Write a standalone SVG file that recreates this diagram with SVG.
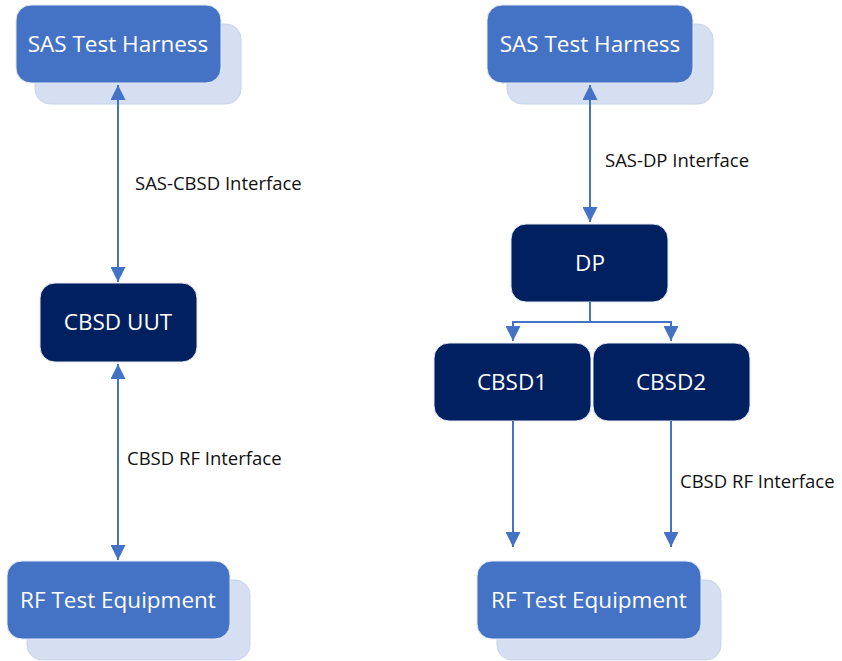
<svg xmlns="http://www.w3.org/2000/svg" width="842" height="661" viewBox="0 0 842 661">
<defs>
<marker id="ah" viewBox="0 0 10 10" refX="10" refY="5" markerWidth="7.5" markerHeight="7.5" orient="auto-start-reverse" markerUnits="strokeWidth">
<path d="M0,0 L10,5 L0,10 z" fill="#4472C4"/>
</marker>
<style>
.back{fill:#D6DFF1;stroke:#C7D4EC;stroke-width:1}
.front{fill:#4472C4;stroke:#E4E9F2;stroke-width:1}
.dark{fill:#002060;stroke:#E4E9F2;stroke-width:1}
.t{font-family:"Open Sans","Noto Sans",sans-serif;font-size:22.5px;fill:#ffffff;text-anchor:middle}
.lbl{font-family:"Open Sans","Noto Sans",sans-serif;font-size:18.5px;fill:#111111}
.c{fill:none;stroke:#4472C4;stroke-width:2}
</style>
</defs>
<rect width="842" height="661" fill="#ffffff"/>
<g id="sas-left">
<rect class="back" x="35" y="24" width="206" height="80" rx="15"/>
<rect class="front" x="16" y="5" width="205" height="78" rx="15"/>
<text class="t" x="118" y="52">SAS Test Harness</text>
</g>
<g id="cbsd-uut">
<rect class="dark" x="40" y="283" width="157" height="79" rx="15"/>
<text class="t" x="118" y="330">CBSD UUT</text>
</g>
<g id="rf-left">
<rect class="back" x="27" y="580" width="223" height="80" rx="15"/>
<rect class="front" x="7" y="561" width="223" height="78" rx="15"/>
<text class="t" x="118" y="608">RF Test Equipment</text>
</g>
<g id="sas-right">
<rect class="back" x="507" y="24" width="206" height="80" rx="15"/>
<rect class="front" x="487" y="5" width="206" height="78" rx="15"/>
<text class="t" x="590" y="52">SAS Test Harness</text>
</g>
<g id="dp">
<rect class="dark" x="511" y="224" width="157" height="78" rx="15"/>
<text class="t" x="590" y="271">DP</text>
</g>
<g id="cbsd1">
<rect class="dark" x="434" y="343" width="157" height="78" rx="15"/>
<text class="t" x="512" y="390">CBSD1</text>
</g>
<g id="cbsd2">
<rect class="dark" x="593" y="343" width="157" height="78" rx="15"/>
<text class="t" x="671" y="390">CBSD2</text>
</g>
<g id="rf-right">
<rect class="back" x="497" y="580" width="224" height="80" rx="15"/>
<rect class="front" x="477" y="561" width="224" height="78" rx="15"/>
<text class="t" x="589" y="608">RF Test Equipment</text>
</g>
<g id="connectors">
<line class="c" x1="118" y1="85" x2="118" y2="282" marker-start="url(#ah)" marker-end="url(#ah)"/>
<line class="c" x1="118" y1="364" x2="118" y2="560" marker-start="url(#ah)" marker-end="url(#ah)"/>
<line class="c" x1="590" y1="85" x2="590" y2="222" marker-start="url(#ah)" marker-end="url(#ah)"/>
<polyline class="c" points="590,302 590,322"/>
<polyline class="c" points="513,341 513,322 671,322 671,341" marker-start="url(#ah)" marker-end="url(#ah)"/>
<line class="c" x1="513" y1="421" x2="513" y2="547" marker-end="url(#ah)"/>
<line class="c" x1="671" y1="421" x2="671" y2="547" marker-end="url(#ah)"/>
<text class="lbl" x="135" y="190">SAS-CBSD Interface</text>
<text class="lbl" x="127" y="465">CBSD RF Interface</text>
<text class="lbl" x="605" y="167">SAS-DP Interface</text>
<text class="lbl" x="680" y="488">CBSD RF Interface</text>
</g>
</svg>
